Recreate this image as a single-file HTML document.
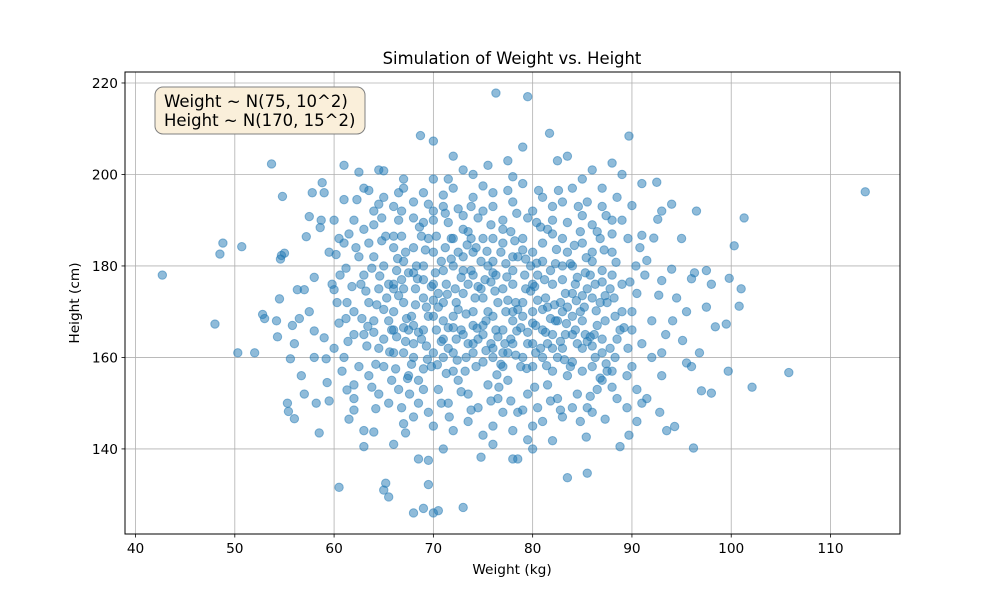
<!DOCTYPE html>
<html><head><meta charset="utf-8">
<style>
html,body{margin:0;padding:0;background:#fff;}
svg text{font-family:"DejaVu Sans","Liberation Sans",sans-serif;}
</style></head>
<body>
<svg id="chart" width="1000" height="600" viewBox="0 0 1000 600" xmlns="http://www.w3.org/2000/svg">
<rect width="1000" height="600" fill="#fff"/>
<g id="grid"></g>
<g id="marks"></g>
<rect x="125" y="72" width="775" height="462" fill="none" stroke="#000" stroke-width="1"/>
<g id="axes"></g>
<text x="512" y="64" text-anchor="middle" font-size="16.4">Simulation of Weight vs. Height</text>
<text x="512" y="574" text-anchor="middle" font-size="13.7">Weight (kg)</text>
<text x="79" y="303" text-anchor="middle" font-size="13.7" transform="rotate(-90 79 303)">Height (cm)</text>
<g>
<rect x="155" y="87" width="210" height="47" rx="8" fill="#faefda" stroke="#808080" stroke-width="1"/>
<text x="164" y="107" font-size="16.5">Weight ~ N(75, 10^2)</text>
<text x="164" y="126" font-size="16.5">Height ~ N(170, 15^2)</text>
</g>
</svg>
<script>
const xTicks=[40,50,60,70,80,90,100,110];
const yTicks=[140,160,180,200,220];
const samples=[
[42.7,178],[48,167.3],[48.5,182.6],[48.8,185],[50.3,161],[50.7,184.2],[52,161],[52.8,169.4],[53,168.5],[53.7,202.3],[54.2,168],[54.3,164.5],[54.5,172.8],[54.6,181.5],[54.7,182.3],[54.8,195.2],[55,182.8],[55.3,150],[55.4,148.2],[55.6,159.7],[55.8,167],[56,146.6],[56.3,174.8],[56.5,168.5],[57,174.8],[57.2,186.4],[57.5,190.8],[57.8,196],[58,177.5],[58,165.8],[58.2,150],[58.5,143.5],[58.7,190],[58.8,198.2],[58.6,188.4],[59,164.3],[59.2,159.7],[59.3,154.5],[59.5,150.5],[59.8,176],[60,174.8],[60.3,172],[60.5,167.5],[60.5,131.6],[60.8,157],[61,194.5],[61,202],[61,185],[61.2,179.5],[61.3,152.9],[61.5,146.5],[62,154],[62,148.5],[62.5,200.5],[62.3,194.5],[63,140.5],[63,144],[63.5,196.5],[64,143.7],[64.2,148.8],[64.5,201],[65,200.8],[65,131],[65.2,132.5],[65.5,129.5],[66.3,164.5],[67,145.5],[67.2,143.5],[68,126],[68.5,137.8],[68.7,208.5],[69,127],[69.5,137.5],[69.5,132.2],[70,207.3],[70,126],[70.5,126.5],[73,127.2],[74.8,138.2],[76.3,217.8],[78,137.8],[78.5,137.8],[79.5,217],[79.5,142],[82,141.8],[83.5,133.7],[84.8,146],[85.5,134.7],[85.4,142.6],[87.3,146.5],[88.8,140.5],[89.7,143],[89.7,208.4],[88,202.5],[90,193.2],[92.5,198.3],[91,198],[94.3,144.9],[93.5,144],[96.2,140.2],[96.5,192],[96.8,161],[97,152.7],[97.5,171],[98,152.2],[98.4,166.7],[99.5,167.3],[99.7,157],[99.8,177.3],[100.3,184.4],[100.8,171.2],[101,175],[101.3,190.5],[102.1,153.5],[105.8,156.7],[113.5,196.2],[95.5,158.8],[96,158],[93,156],[93.4,165],[94.1,168],[95.1,163.7],[92.7,173.6],[93,176.8],[94,179.3],[94,193.5],[93,192],[92.6,190.2],[92.2,186.1],[91.5,181.2],[90.8,184],[91,186.7],[91.3,178],[96,177.2],[96.3,178.5],
[61.5,187],[62.5,182],[63,178],[63.5,172],[64,168],[64.5,162],[65,158],[65.5,176],[66,184],[66.5,190],[67,172],[67.5,166],[68,160],[68.5,155],[69,180],[69.5,186],[70,192],[70.5,174],[71,168],[71.5,162],[72,157],[72.5,183],[73,188],[73.5,176],[74,170],[74.5,164],[75,159],[75.5,180],[76,186],[76.5,172],[77,166],[77.5,161],[78,176],[78.5,182],[79,169],[79.5,163],[80,158],[80.5,178],[81,185],[81.5,171],[82,165],[82.5,160],[83,177],[83.5,183],[84,169],[84.5,163],[85,157],[85.5,175],[86,181],[86.5,167],[87,161],[87.5,172],[88,178],[88.5,164],[89,170],[89.5,156],[90,166],[90.5,174],
[62,170],[63,165],[64,182],[64.5,175],[65.5,168],[66,161],[66.8,177],[67.2,183],[67.8,169],[68.2,175],[68.8,164],[69.3,171],[69.8,158],[70.3,166],[70.8,181],[71.3,176],[71.8,186],[72.3,172],[72.8,166],[73.3,160],[73.8,179],[74.3,184],[74.8,175],[75.3,168],[75.8,163],[76.3,178],[76.8,183],[77.3,170],[77.8,164],[78.3,172],[78.8,158],[79.3,175],[79.8,180],[80.3,167],[80.8,162],[81.3,173],[81.8,179],[82.3,168],[82.8,172],[83.3,165],[83.8,158],[84.3,176],[84.8,170],[85.3,165],[85.8,178],[86.3,160],[86.8,172],[87.3,168],[87.8,175],[88.3,160],[88.8,166],
[61,160],[62.5,158],[63.5,156],[64.5,152],[65.5,150],[66.5,153],[67.5,156],[68.5,150],[69.5,148],[70.5,153],[71.5,150],[72.5,155],[73.5,152],[74.5,149],[75.5,154],[76.5,151],[77.5,155],[78.5,148],[79.5,152],[80.5,149],[81.5,154],[82.5,151],[83.5,156],[84.5,152],[85.5,149],[86.5,153],[87.5,157],[88.5,151],[89.5,149],[90.5,153],[91.5,151],[92,160],[91,163],[90,158],
[62,190],[63,188],[64,192],[65,195],[66,193],[67,197],[68,194],[69,196],[70,190],[71,193],[72,197],[73,191],[74,195],[75,192],[76,196],[77,190],[78,194],[79,198],[80,192],[81,195],[82,190],[83,194],[84,197],[85,191],[86,189],[87,193],[88,187],[89,190],[74,200],[75.5,202],[77.5,203],[79,206],[81.7,209],[82.5,203],[83.5,204],[71.5,199],[72,204],[73,201],[67,199],[70,199],
[66,170],[67,175],[68,167],[69,173],[70,169],[71,172],[72,169],[73,174],[74,167],[75,173],[76,169],[77,175],[78,168],[79,172],[80,170],[81,166],[82,176],[83,170],[84,174],[85,168],[86,173],[87,164],
[65,180],[66,176],[67,181],[68,184],[69,177],[70,183],[71,179],[72,186],[73,182],[74,178],[75,186],[76,181],[77,185],[78,179],[79,186],[80,183],[81,181],[82,187],[83,186],[84,180],[85,185],[86,183],[87,179],[88,183],[89,176],
[65,164],[66,166],[67,161],[68,163],[69,166],[70,161],[71,164],[72,161],[73,165],[74,161],[75,165],[76,162],[77,158],[78,163],[79,160],[80,163],[81,160],[82,157],[83,162],[84,159],[85,162],[86,158],[87,155],[88,157],
[70,145],[72,144],[73.5,146],[75,143],[76,145],[77,148],[78,144],[80,145],[81,146],[83,147],[86,148],[71,140],[76,141],[80,140],[66,141],[68,147],[62,165],[60,162],[59.5,183],[60.5,186],[61.3,172],[62.7,176],[57.5,170],[58,160],[56.7,156],[56,163],[57,152],[60,190],[59,196],[63.5,185],[64,189],[94.5,173],[95,186],[95.5,170],[97.5,179],[98,176],[92,168],[93,161],[91,150],[92.8,148],[90.5,146],[89,200],[87,197],[85,199],[86,201],[88.5,195],
[61.8,175.5],[62.8,168.5],[63.3,162.5],[63.8,179.5],[64.3,171.5],[64.8,185.5],[65.3,173],[65.8,166],[66.3,179],[66.8,186.5],[67.3,168.5],[67.8,158.5],[68.3,180],[68.8,186.5],[69.3,162.5],[69.8,175.5],[70.3,186.5],[70.8,163.5],[71.3,156.5],[71.8,181.5],[72.3,164],[72.8,177.5],[73.3,169.5],[73.8,186],[74.3,158],[74.8,181],[75.3,161.5],[75.8,176.5],[76.3,166],[76.8,158.5],[77.3,180.5],[77.8,187.5],[78.3,160.5],[78.8,166.5],[79.3,181.5],[79.8,174.5],[80.3,161],[80.8,188.5],[81.3,165.5],[81.8,168.5],[82.3,180.5],[82.8,163.5],[83.3,174],[83.8,180.5],[84.3,166],[84.8,187.5],[85.3,178.5],[85.8,164.5],[86.3,176],[86.8,186],[87.3,173.5],[87.8,162],[88.3,169],
[62.2,184],[63.2,174.5],[64.2,158.5],[65.2,186.5],[66.2,157.5],[67.2,163.5],[68.2,171.5],[69.2,183.5],[70.2,178.5],[71.2,184],[72.2,175],[73.2,157],[74.2,173],[75.2,177],[76.2,174.5],[77.2,163],[78.2,185.5],[79.2,178],[80.2,175.5],[81.2,177],[82.2,171.5],[83.2,159.5],[84.2,184.5],[85.2,171],[86.2,165],[87.2,183.5],[88.2,173],[89.2,166.5],
[66.5,173.5],[67.5,178.5],[68.5,165.5],[69.5,169],[70.5,171],[71.5,166.5],[72.5,170.5],[73.5,163],[74.5,175.5],[75.5,170],[76.5,164.5],[77.5,172.5],[78.5,170.5],[79.5,165.5],[80.5,172.5],[81.5,163],[82.5,168],[83.5,171],[84.5,177.5],[85.5,163.5],[74,163],[76,160],[72,180],[78,182],[70,176],[80,176],
[62,151],[63.8,153.5],[65.8,155],[66.8,149],[67.6,152],[69,153],[70.8,150],[71.6,147],[72.8,152.5],[73.8,148.5],[75.8,150.5],[76.6,153.5],[77.8,150.5],[79,148.5],[80.2,153.5],[81.8,150.5],[82.8,148.5],[84,149],[85.8,151.5],[86.8,155.5],[88,153.5],
[63,197],[64.5,193.5],[66.5,196],[68,190.5],[69.5,193.5],[71,195.5],[72.5,192.5],[74.5,190.5],[76,193],[77.5,196.5],[79.5,190.5],[80.6,196.5],[82,193],[83.5,189.5],[85.5,194],[86.5,187.5],[88,190],[75,197.5],[78,199.5],[66,186.5],[68.6,188.5],[71.5,189.5],[73.5,187.5],[77,188],[81.5,188],
[63.4,166.8],[64.6,177.8],[65.6,161.2],[66.4,181.6],[67.4,155.4],[68.4,177.2],[69.4,159.6],[70.4,158.4],[71.4,173.8],[72.4,159.4],[73.4,184.6],[74.4,166.4],[75.4,183.2],[76.4,156.2],[77.4,177.6],[78.4,165.8],[79.4,157.6],[80.4,180.6],[81.4,158.2],[82.4,183.6],[83.4,167.4],[84.4,172.4],[85.4,181.8],[86.4,170.2],[87.4,158.6],[88.4,180.8],
[64,165.5],[65,170.5],[66,175],[67,166.5],[68,178.5],[69,157.5],[70,172.5],[71,160],[72,166.5],[73,179],[74,183],[75,167],[76,178.5],[77,161],[78,170],[79,183.5],[80,167.5],[81,170.5],[82,162],[83,180],[84,165],[85,173.5],[86,162.5],[87,176.5],
[64.8,190.5],[66.8,192],[69,189.5],[71.2,191.5],[73.8,193],[75.8,189],[78.4,191.5],[80.4,189.5],[82.6,196.5],[84.6,193],[87.4,191],[89.6,186],[90.4,180],[90,170],[89.6,162],[89.8,176.5],[61.2,168.5],[61.4,163.5],[60.6,178],[60.2,182.5]
];
const X0=38.94,X1=117.0,Y0=121.4,Y1=222.4,L=125,R=900,T=72,B=534;
const xs=v=>L+(v-X0)/(X1-X0)*(R-L);
const ys=v=>B-(v-Y0)/(Y1-Y0)*(B-T);
const NS='http://www.w3.org/2000/svg';
const grid=document.getElementById('grid'),axes=document.getElementById('axes'),marks=document.getElementById('marks');
function mk(tag,attrs,parent){const e=document.createElementNS(NS,tag);for(const k in attrs)e.setAttribute(k,attrs[k]);parent.appendChild(e);return e;}
xTicks.forEach(t=>{const x=xs(t);
const g=mk('line',{x1:x,x2:x,y1:T,y2:B,stroke:'#b0b0b0','stroke-width':0.8},grid);


mk('line',{x1:x,x2:x,y1:B,y2:B+3.5,stroke:'#000','stroke-width':0.8},axes);
const tx=mk('text',{x:x,y:B+19,'text-anchor':'middle','font-size':13.7},axes);tx.textContent=t;


});
yTicks.forEach(t=>{const y=ys(t);
const g=mk('line',{x1:L,x2:R,y1:y,y2:y,stroke:'#b0b0b0','stroke-width':0.8},grid);


mk('line',{x1:L-3.5,x2:L,y1:y,y2:y,stroke:'#000','stroke-width':0.8},axes);
const tx=mk('text',{x:L-7,y:y+5,'text-anchor':'end','font-size':13.7},axes);tx.textContent=t;


});
samples.forEach(p=>{
const c=mk('circle',{cx:xs(p[0]),cy:ys(p[1]),r:4.2,fill:'rgba(31,119,180,0.5)',stroke:'rgba(31,119,180,0.5)','stroke-width':1},marks);


});
</script>
</body></html>
